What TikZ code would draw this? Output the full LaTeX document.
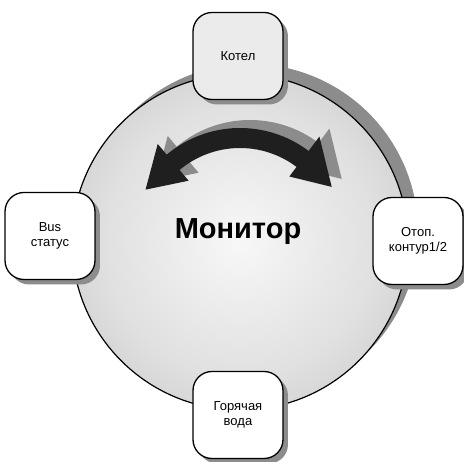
\documentclass[tikz,border=0pt]{standalone}
\usepackage{fontspec}
\setmainfont{Liberation Sans}
\usetikzlibrary{shadows}
\pgfdeclareradialshading{kugel}{\pgfpoint{0bp}{0bp}}{color(0bp)=(black!3); color(20bp)=(black!12); color(50bp)=(black!33)}
\begin{document}
\begin{tikzpicture}[x=1pt,y=1pt,
  box/.style={draw,line width=1.3pt,rounded corners=19pt,fill=white,
    minimum width=90pt,minimum height=87pt,align=center,
    font=\fontsize{13}{14.5}\selectfont,
    drop shadow={shadow xshift=5pt,shadow yshift=-5pt,fill=black!45,opacity=1}}]
\useasboundingbox (-240,-220) rectangle (224,242);
% Kreis
\fill[black!45] (10,10) circle[radius=168];
\shadedraw[shading=kugel,draw=black,line width=1.2pt] (0,0) circle[radius=168];
% Doppelpfeil
\foreach \dx/\dy/\farbe in {10/8/black!45,0/0/black!88}
  \fill[\farbe,shift={(\dx,\dy)}] (130:114) arc[start angle=130,end angle=53,radius=114]
    -- (53:132) -- (31:107) -- (53:82) -- (53:94)
    arc[start angle=53,end angle=130,radius=94]
    -- (130:80) -- (151:108) -- (130:128) -- cycle;
\node[font=\fontsize{29}{32}\selectfont\bfseries] (monitor) at (-2,10) {Монитор};
\node[box,fill=black!8] (kotel) at (-2,186) {Котел};
\node[box] (bus) at (-190,6) {Bus\\статус};
\node[box] (kontur) at (178,1) {Отоп.\\контур1/2};
\node[box] (voda) at (-2,-173) {Горячая\\вода};
\end{tikzpicture}
\end{document}
